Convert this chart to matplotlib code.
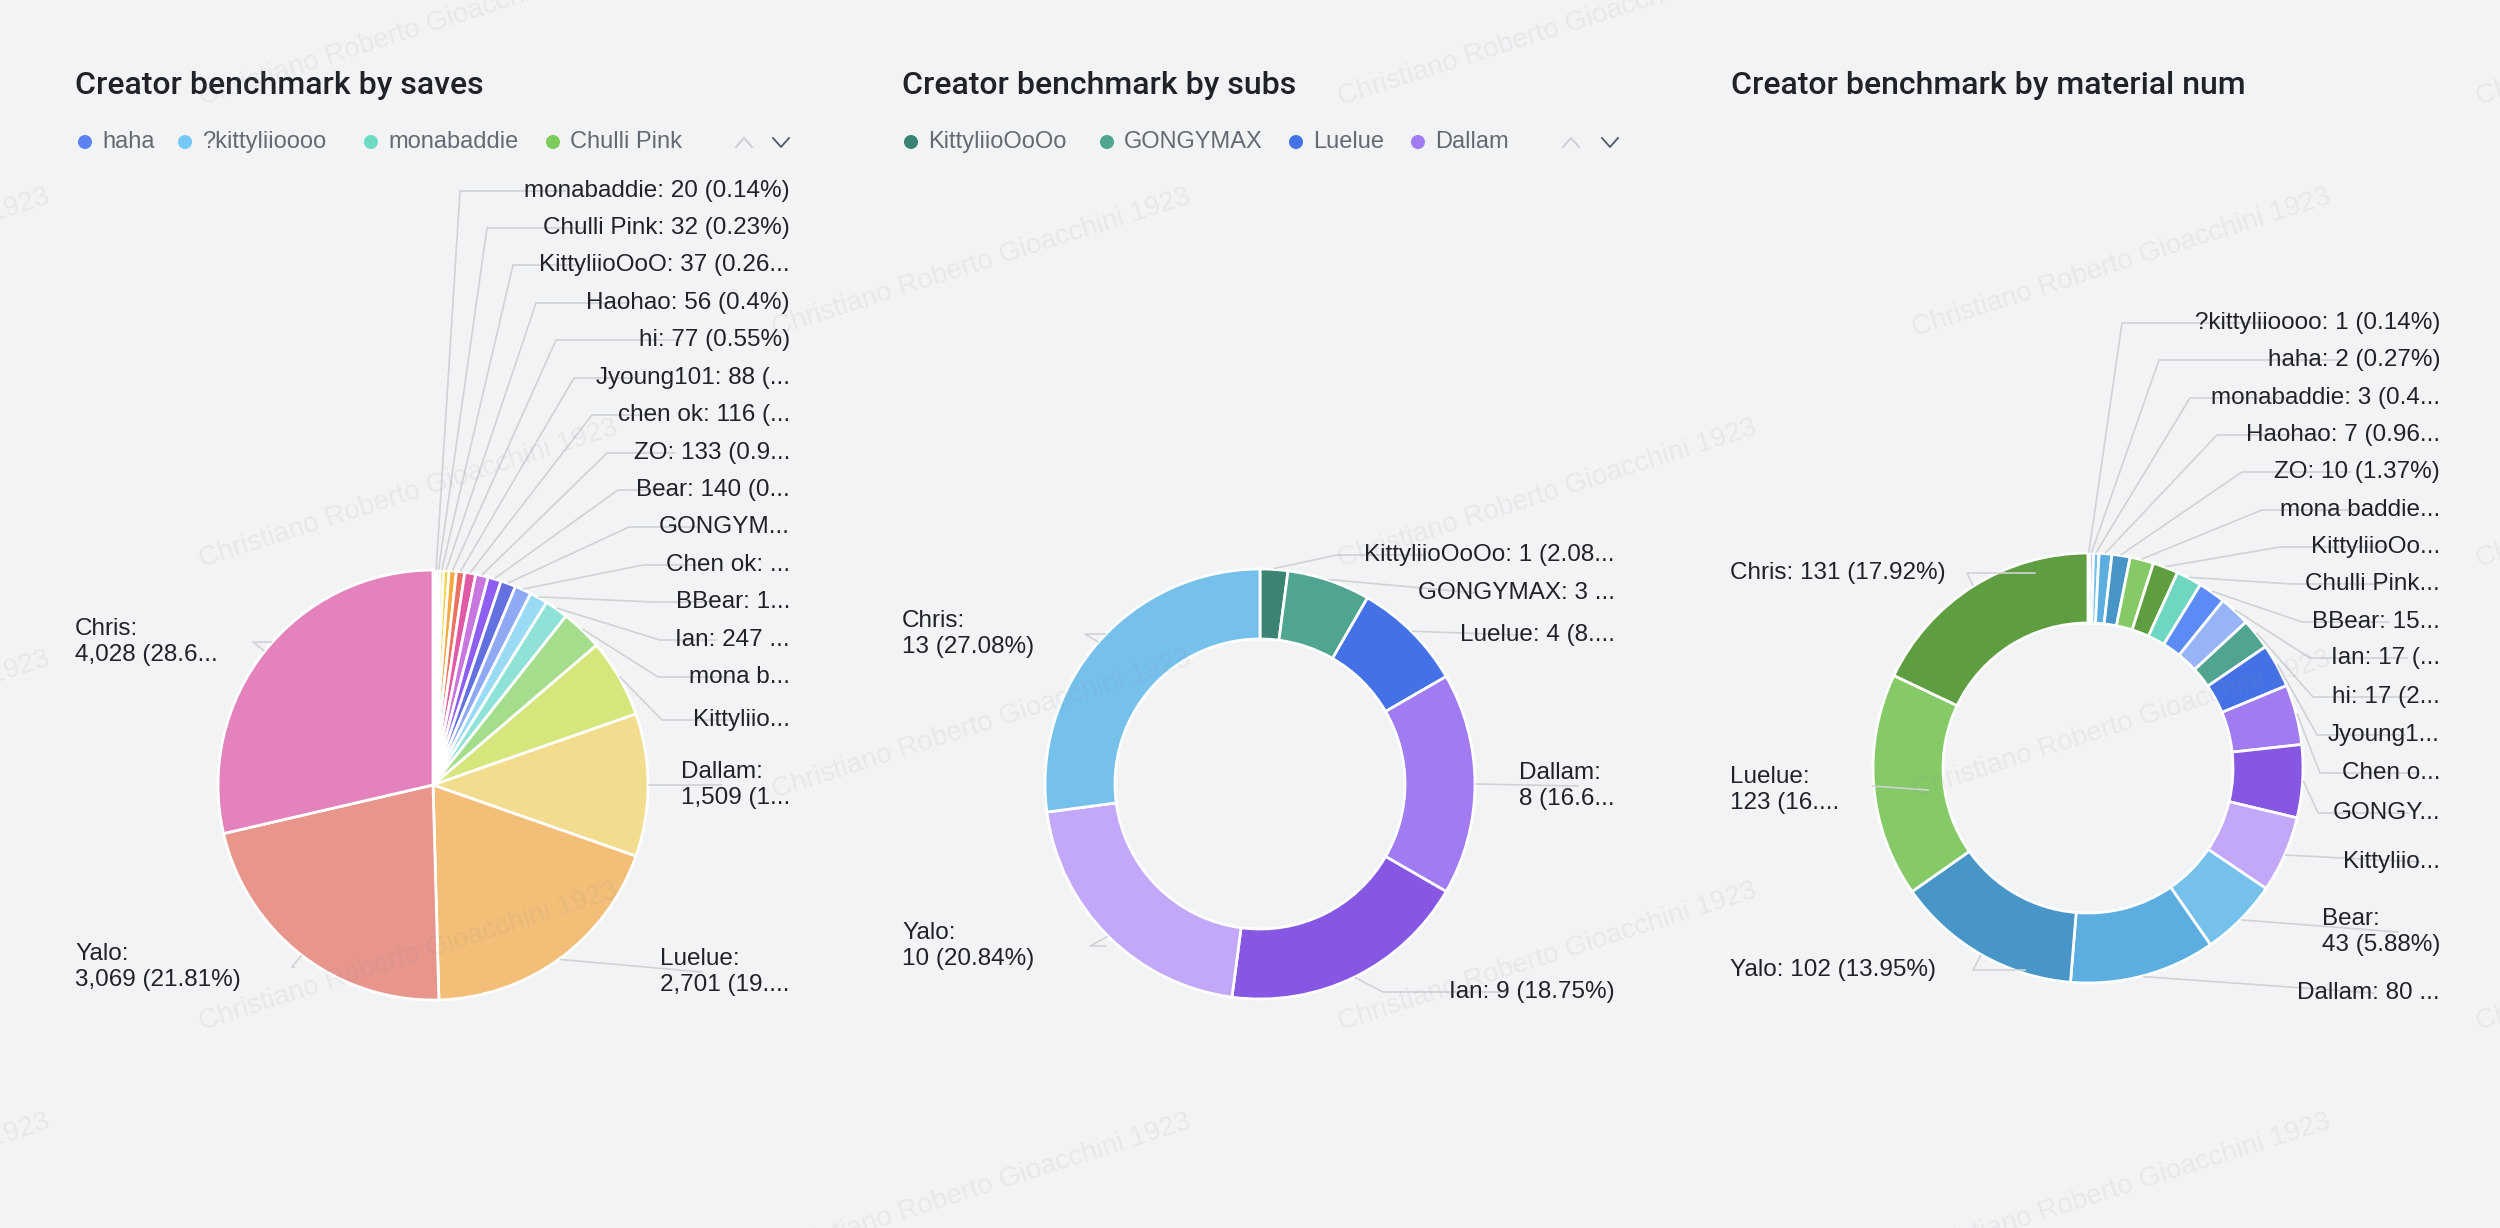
import math
import matplotlib
matplotlib.use("Agg")
import matplotlib.pyplot as plt
from matplotlib.patches import Circle

plt.rcParams['font.family'] = ['Liberation Sans', 'DejaVu Sans']

W, H = 2500, 1228
BG = "#f2f3f5"

# ---- data (each pie is sorted ascending, drawn clockwise from 12 o'clock) ----
saves_names = ["haha", "?kittyliioooo", "monabaddie", "Chulli Pink", "KittyliioOoO", "Haohao", "hi",
               "Jyoung101", "chen ok", "ZO", "Bear", "GONGYMAX", "Chen ok", "BBear", "Ian",
               "mona baddie", "KittyliioOoOo", "Dallam", "Luelue", "Yalo", "Chris"]
saves_values = [8, 15, 20, 32, 37, 56, 77, 88, 116, 133, 140, 160, 175, 190, 247,
                440, 830, 1509, 2701, 3069, 4028]

subs_names = ["KittyliioOoOo", "GONGYMAX", "Luelue", "Dallam", "Ian", "Yalo", "Chris"]
subs_values = [1, 3, 4, 8, 9, 10, 13]

material_names = ["?kittyliioooo", "haha", "monabaddie", "Haohao", "ZO", "mona baddie", "KittyliioOoO",
                  "Chulli Pink", "BBear", "Ian", "hi", "Jyoung101", "Chen ok", "GONGYMAX",
                  "KittyliioOoOo", "Bear", "Dallam", "Yalo", "Luelue", "Chris"]
material_values = [1, 2, 3, 7, 10, 13, 14, 14, 15, 17, 17, 24, 33, 40, 42, 43, 80, 102, 123, 131]

titles = ["Creator benchmark by saves", "Creator benchmark by subs", "Creator benchmark by material num"]

# ---- colours ----
saves_colors = ["#5b83f3", "#75c9f7", "#6ddcc5", "#7ccb5c", "#c9df5a", "#f5d347", "#f5a843",
                "#eb725f", "#e05aa5", "#c877de", "#8e5ef2", "#6470e0", "#8fa9f5", "#99daf5",
                "#8ee3d6", "#a4dd8b", "#d6e67c", "#f2dd8e", "#f3be77", "#e8958c", "#e382bd"]
subs_colors = ["#3b8373", "#50a590", "#4471e5", "#a07bf2", "#8657e3", "#c3a7f8", "#76c0ec"]
material_colors = ["#8657e3", "#c3a7f8", "#76c0ec", "#5baedf", "#4896c8", "#85ca67", "#5f9e40",
                   "#6fd6c1", "#5d8bf5", "#97b4f7", "#50a590", "#4471e5", "#a07bf2", "#8657e3",
                   "#c3a7f8", "#76c0ec", "#5baedf", "#4896c8", "#85ca67", "#5f9e40"]

# ---- label layout: (item, text y, elbow x, truncate at, two lines) ----
saves_labels = [
    (2, 191, 460, None, False), (3, 228, 487, None, False), (4, 265, 513, 22, False),
    (5, 303, 536, None, False), (6, 340, 556, None, False), (7, 378, 574, 15, False),
    (8, 415, 592, 14, False), (9, 453, 607, 12, False), (10, 490, 618, 12, False),
    (11, 527, 629, 6, False), (12, 565, 643, 9, False), (13, 602, 653, 8, False),
    (14, 640, 660, 9, False), (15, 677, 658, 6, False), (16, 720, 662, 9, False),
    (17, 785, None, 8, True), (18, 972, None, 10, True),
    (19, 967, 292, None, True), (20, 642, 253, 11, True),
]
subs_labels = [
    (0, 555, 1337, 22, False), (1, 593, None, 12, False), (2, 635, None, 13, False),
    (3, 786, None, 7, True), (4, 992, 1383, None, False),
    (5, 946, 1090, None, True), (6, 634, 1085, None, True),
]
material_labels = [
    (0, 323, 2122, None, False), (1, 360, 2159, None, False), (2, 398, 2190, 18, False),
    (3, 435, 2217, 15, False), (4, 472, 2242, None, False), (5, 510, 2262, 11, False),
    (6, 547, 2280, 11, False), (7, 584, 2292, 11, False), (8, 622, 2302, 9, False),
    (9, 658, 2310, 9, False), (10, 697, 2313, 9, False), (11, 735, 2317, 7, False),
    (12, 773, 2320, 6, False), (13, 813, 2318, 5, False), (14, 862, None, 9, False),
    (15, 932, None, None, True), (16, 993, None, 11, False),
    (17, 970, 1973, None, False), (18, 790, None, 8, True), (19, 573, 1967, None, False),
]

charts = [
    dict(names=saves_names, values=saves_values, colors=saves_colors, labels=saves_labels,
         cx=433, cy=785, r=215, inner=None, left_x=75, right_x=790, title_x=75,
         legend=[(0, 85), (1, 185), (2, 371), (3, 553)], arrows=(744, 781)),
    dict(names=subs_names, values=subs_values, colors=subs_colors, labels=subs_labels,
         cx=1260, cy=784, r=215, inner=145, left_x=902, right_x=1615, title_x=902,
         legend=[(0, 911), (1, 1107), (2, 1296), (3, 1418)], arrows=(1571, 1610)),
    dict(names=material_names, values=material_values, colors=material_colors, labels=material_labels,
         cx=2088, cy=768, r=215, inner=145, left_x=1730, right_x=2440, title_x=1731,
         legend=[], arrows=None),
]

LABEL_SIZE = 17.5


def percents(values):
    # largest remainder rounding to 2 decimals, like echarts
    total = sum(values)
    votes = [v / total * 100 * 100 for v in values]
    seats = [math.floor(x) for x in votes]
    rem = [x - s for x, s in zip(votes, seats)]
    cur = sum(seats)
    while cur < 10000:
        i = max(range(len(rem)), key=lambda k: rem[k])
        seats[i] += 1
        rem[i] = 0
        cur += 1
    return [f"{s / 100:g}" for s in seats]


def label_text(name, v, pct, cut, wrap):
    head = f"{name}:"
    tail = f"{v:,} ({pct}%)"
    if wrap:
        if cut:
            tail = tail[:cut] + "..."
        return head + "\n" + tail
    s = head + " " + tail
    if cut:
        s = s[:cut] + "..."
    return s


def Y(y):
    return H - y


fig = plt.figure(figsize=(W / 100, H / 100), dpi=100, facecolor=BG)
ax = fig.add_axes([0, 0, 1, 1])
ax.set_facecolor(BG)

pending = []
for n, ch in enumerate(charts):
    vals = ch["values"]
    total = sum(vals)
    wp = dict(edgecolor="white", linewidth=2)
    if ch["inner"]:
        wp["width"] = ch["r"] - ch["inner"]
    ax.pie(vals, colors=ch["colors"], startangle=90, counterclock=False, radius=ch["r"],
           center=(ch["cx"], Y(ch["cy"])), wedgeprops=wp, frame=True)

    pcts = percents(vals)
    cum = 0
    mids = []
    for v in vals:
        mids.append(360 * (cum + v / 2) / total)
        cum += v

    for idx, ty, ex, cut, wrap in ch["labels"]:
        ang = math.radians(mids[idx])
        right = mids[idx] < 180
        txt = label_text(ch["names"][idx], vals[idx], pcts[idx], cut, wrap)
        if right:
            t = ax.text(ch["right_x"], Y(ty), txt, ha="right", va="center", ma="left",
                        fontsize=LABEL_SIZE, color="#1f2329", linespacing=1.25)
        else:
            t = ax.text(ch["left_x"], Y(ty), txt, ha="left", va="center", ma="left",
                        fontsize=LABEL_SIZE, color="#1f2329", linespacing=1.25)
        edge = (ch["cx"] + (ch["r"] + 1) * math.sin(ang), ch["cy"] - (ch["r"] + 1) * math.cos(ang))
        pending.append((t, edge, ex, ty, right))

    # title and legend
    ax.text(ch["title_x"], Y(85), titles[n], ha="left", va="center",
            fontsize=23, color="#1f2329", family=["Roboto", "DejaVu Sans"], fontweight="medium")
    for idx, lx in ch["legend"]:
        ax.add_patch(Circle((lx, Y(142)), 7, color=ch["colors"][idx], lw=0))
        ax.text(lx + 17, Y(142), ch["names"][idx], ha="left", va="center",
                fontsize=17, color="#646a73")
    if ch["arrows"]:
        ux, dx = ch["arrows"]
        ax.plot([ux - 8, ux, ux + 8], [Y(147), Y(138), Y(147)], color="#c9cdd4", lw=1.3)
        ax.plot([dx - 8, dx, dx + 8], [Y(138), Y(147), Y(138)], color="#4e5969", lw=1.3)

# label lines need the text extents
fig.canvas.draw()
renderer = fig.canvas.get_renderer()
for t, edge, ex, ty, right in pending:
    bb = t.get_window_extent(renderer)
    pts = [edge]
    if ex is not None:
        pts.append((ex, ty))
    if right:
        pts.append((bb.x0 - 10, ty))
    else:
        pts.append((bb.x1 + 18, ty))
    ax.plot([p[0] for p in pts], [Y(p[1]) for p in pts], color="#cfd2d6", lw=1.2, zorder=1)

# watermark
wm = "Christiano Roberto Gioacchini 1923"
rows = [32, 263, 494, 725, 957, 1188]
for k, ry in enumerate(rows):
    xs = [408, 1547, 2685] if k % 2 == 0 else [-160, 981, 2121]
    for wx in xs:
        ax.text(wx, Y(ry), wm, rotation=17.7, rotation_mode="anchor", ha="center", va="center",
                fontsize=20, color="#8a9099", alpha=0.11, zorder=10)

ax.set_xlim(0, W)
ax.set_ylim(0, H)
ax.set_aspect("auto")
ax.axis("off")

fig.savefig("out.png", dpi=100, facecolor=BG)
